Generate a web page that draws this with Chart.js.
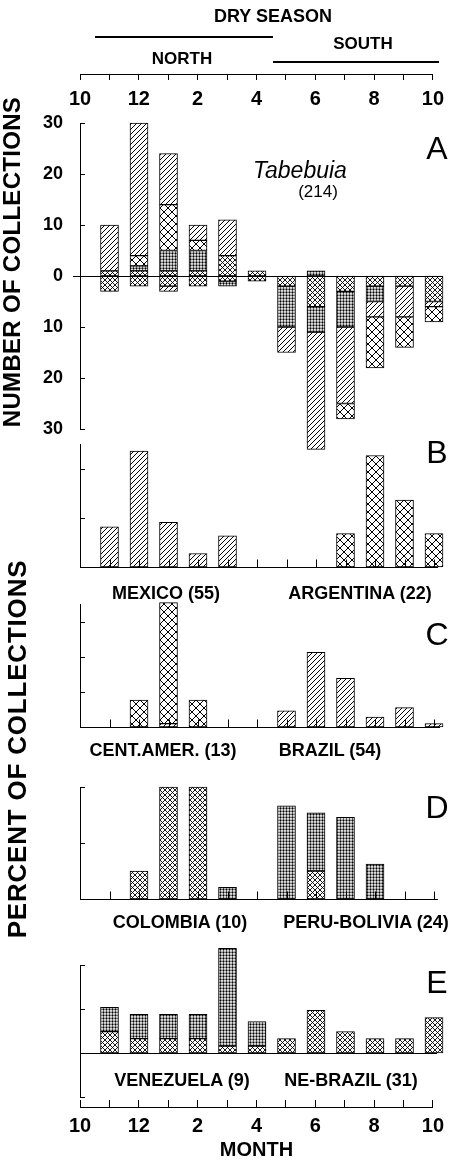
<!DOCTYPE html>
<html><head><meta charset="utf-8">
<script src="https://cdn.jsdelivr.net/npm/chart.js@4.4.0/dist/chart.umd.min.js"></script>
<style>
html,body{margin:0;padding:0;background:#fff;}
#wrap{position:relative;width:451px;height:1163px;overflow:hidden;background:#fff;}
canvas.layer{position:absolute;left:0;top:0;}
.t{position:absolute;font-family:"Liberation Sans",Arial,sans-serif;color:#000;white-space:nowrap;transform:translate(-50%,-50%);line-height:1;}
.b{font-weight:bold;}
.rot{transform:translate(-50%,-50%) rotate(-90deg);}
.hl{position:absolute;height:2px;background:#000;}
</style></head><body>
<div id="wrap">
<canvas id="cTop" class="layer" width="451" height="1163"></canvas>
<canvas id="cA" class="layer" width="451" height="1163"></canvas>
<canvas id="cB" class="layer" width="451" height="1163"></canvas>
<canvas id="cC" class="layer" width="451" height="1163"></canvas>
<canvas id="cD" class="layer" width="451" height="1163"></canvas>
<canvas id="cE" class="layer" width="451" height="1163"></canvas>
<canvas id="cBot" class="layer" width="451" height="1163"></canvas>

<div class="hl" style="left:95px;top:36px;width:178px;"></div>
<div class="hl" style="left:273px;top:61px;width:166px;"></div>
<div class="t b" style="left:273px;top:16px;font-size:18px;">DRY SEASON</div>
<div class="t b" style="left:182px;top:58px;font-size:17px;">NORTH</div>
<div class="t b" style="left:363px;top:43px;font-size:17px;">SOUTH</div>
<div class="t b rot" style="left:12px;top:262px;font-size:24px;letter-spacing:0.3px;">NUMBER OF COLLECTIONS</div>
<div class="t b rot" style="left:17px;top:749px;font-size:26px;letter-spacing:0.8px;">PERCENT OF COLLECTIONS</div>
<div class="t" style="left:437px;top:148px;font-size:32px;">A</div>
<div class="t" style="left:437px;top:452px;font-size:32px;">B</div>
<div class="t" style="left:437px;top:634px;font-size:32px;">C</div>
<div class="t" style="left:437px;top:807px;font-size:32px;">D</div>
<div class="t" style="left:437px;top:982px;font-size:32px;">E</div>
<div class="t" style="left:300px;top:170px;font-size:23px;font-style:italic;">Tabebuia</div>
<div class="t" style="left:318px;top:191px;font-size:17px;">(214)</div>
<div class="t b" style="left:166px;top:593px;font-size:18px;">MEXICO (55)</div>
<div class="t b" style="left:360px;top:593px;font-size:18px;">ARGENTINA (22)</div>
<div class="t b" style="left:163px;top:750px;font-size:18px;">CENT.AMER. (13)</div>
<div class="t b" style="left:330px;top:750px;font-size:18px;">BRAZIL (54)</div>
<div class="t b" style="left:180px;top:922px;font-size:18px;">COLOMBIA (10)</div>
<div class="t b" style="left:366px;top:922px;font-size:18px;">PERU-BOLIVIA (24)</div>
<div class="t b" style="left:182px;top:1080px;font-size:18px;">VENEZUELA (9)</div>
<div class="t b" style="left:351px;top:1080px;font-size:18px;">NE-BRAZIL (31)</div>
</div>
<script>
// ---------- data ----------
const months = ["10","11","12","1","2","3","4","5","6","7","8","9","10"];
const axisTickLabels = ["10","","12","","2","","4","","6","","8","","10"];
const tickLabelsA = [-30,-20,-10,0,10,20,30];

// Panel A: number of collections (north above, south below)
const venezuelaA   = [null, 1, 1, 1, 1, 4, 1, null, null, null, null, null, null];
const colombiaA    = [null, null, 1, 4, 4, null, null, null, 1, null, null, null, null];
const centAmerA    = [null, null, 2, 9, 2, null, null, null, null, null, null, null, null];
const mexicoA      = [null, 9, 26, 10, 3, 7, null, null, null, null, null, null, null];
const neBrazilA    = [null, -3, -2, -2, -2, -1, -1, -2, -6, -3, -2, -2, -5];
const peruBoliviaA = [null, null, null, null, null, -1, null, -8, -5, -7, -3, null, null];
const brazilA      = [null, null, null, -1, null, null, null, -5, -23, -15, -3, -6, -1];
const argentinaA   = [null, null, null, null, null, null, null, null, null, -3, -10, -6, -3];

// Panels B-E: percent of collections
const mexicoB      = [null, 16.4, 47.3, 18.2, 5.5, 12.7, null, null, null, null, null, null, null];
const argentinaB   = [null, null, null, null, null, null, null, null, null, 13.6, 45.5, 27.3, 13.6];
const brazilC      = [null, null, null, 1.9, null, null, null, 9.3, 42.6, 27.8, 5.6, 11.1, 1.9];
const centAmerC    = [null, null, 15.4, 69.2, 15.4, null, null, null, null, null, null, null, null];
const colombiaD    = [null, null, 10, 40, 40, null, null, null, 10, null, null, null, null];
const peruBoliviaD = [null, null, null, null, null, 4.2, null, 33.3, 20.8, 29.2, 12.5, null, null];
const neBrazilE    = [null, 9.7, 6.5, 6.5, 6.5, 3.2, 3.2, 6.5, 19.4, 9.7, 6.5, 6.5, 16.1];
const venezuelaE   = [null, 11.1, 11.1, 11.1, 11.1, 44.4, 11.1, null, null, null, null, null, null];

// ---------- patterns ----------
function makePattern(kind){
  const c = document.createElement('canvas');
  const s = {diag:5, xlarge:8, xfine:5, dots:3}[kind];
  c.width = s; c.height = s;
  const g = c.getContext('2d');
  g.fillStyle = '#fff'; g.fillRect(0,0,s,s);
  g.strokeStyle = '#000'; g.lineWidth = 1;
  const ln = (a,b,cc,d)=>{g.beginPath();g.moveTo(a,b);g.lineTo(cc,d);g.stroke();};
  if (kind === 'diag') { ln(-1,s+1,s+1,-1); ln(-1,1,1,-1); ln(s-1,s+1,s+1,s-1); }
  if (kind === 'xlarge' || kind === 'xfine') {
    g.lineWidth = kind === 'xfine' ? 0.9 : 1;
    ln(-1,s+1,s+1,-1); ln(-1,1,1,-1); ln(s-1,s+1,s+1,s-1);
    ln(-1,-1,s+1,s+1); ln(-1,s-1,1,s+1); ln(s-1,-1,s+1,1);
  }
  if (kind === 'dots') {
    g.fillStyle = '#000';
    g.beginPath(); g.arc(1.5, 1.5, 1.15, 0, Math.PI*2); g.fill();
  }
  return g.createPattern(c,'repeat');
}
const P = {diag:makePattern('diag'), xlarge:makePattern('xlarge'), xfine:makePattern('xfine'), dots:makePattern('dots')};

// ---------- decoration plugin (axis details drawn through the chart scales) ----------
const deco = {
  id:'deco',
  afterDatasetsDraw(chart, args, o){
    const ctx = chart.ctx, x = chart.scales.x, y = chart.scales.y, ca = chart.chartArea;
    ctx.save(); ctx.strokeStyle = '#000'; ctx.lineWidth = 1;
    const ln = (a,b,c,d)=>{ctx.beginPath();ctx.moveTo(a,b);ctx.lineTo(c,d);ctx.stroke();};
    if (o.marks) {
      y.ticks.forEach(t=>{ if (t.value === 0) return;
        const py = Math.round(y.getPixelForValue(t.value)) + 0.5;
        ln(ca.left, py, ca.left + o.marks, py); });
    }
    if (o.zero) {
      const py = Math.round(y.getPixelForValue(0)) + 0.5;
      ln(o.zero[0], py, o.zero[1], py);
    }
    if (o.monthTicks) {
      const py = Math.round(y.getPixelForValue(0)) + 0.5;
      for (let i = 1; i < months.length; i++) {
        const px = Math.round(x.getPixelForValue(i)) + 0.5;
        ln(px, py, px, py - o.monthTicks);
      }
    }
    if (o.topLine) {
      const py = Math.round(ca.top) + 0.5;
      ln(ca.left, py, ca.right, py);
    }
    ctx.restore();
  }
};
Chart.register(deco);
Chart.defaults.font.family = '"Liberation Sans", Arial, sans-serif';
Chart.defaults.color = '#000';

const H = 1163, LEFT = 80, RIGHT = 434;

function ds(data, pat){
  return {data, backgroundColor:P[pat], borderColor:'#000', borderWidth:1, borderSkipped:false,
          barThickness:18, clip:false, stack:'s'};
}

function panel(id, datasets, yMin, yMax, top, bottom, tickVals, decoOpts, showLabels){
  return new Chart(document.getElementById(id), {
    type:'bar',
    data:{labels:months, datasets},
    options:{
      responsive:false, animation:false, devicePixelRatio:1,
      layout:{padding:{left:0, right:451-RIGHT, top:top, bottom:H-bottom}},
      plugins:{legend:{display:false}, tooltip:{enabled:false}, deco:decoOpts},
      scales:{
        x:{display:false, offset:false, stacked:true},
        y:{stacked:true, min:yMin, max:yMax,
           afterFit(s){ s.width = LEFT; },
           afterBuildTicks(s){ s.ticks = tickVals.map(v=>({value:v})); },
           grid:{display:false, drawTicks:false, tickLength:0},
           border:{display:true, color:'#000', width:1},
           ticks:{display:showLabels, padding:17, color:'#000',
                  font:{size:18, weight:'bold'},
                  callback:(v)=>String(Math.abs(v))}}
      }
    }
  });
}

panel('cA', [
  ds(venezuelaA,'xfine'), ds(colombiaA,'dots'), ds(centAmerA,'xlarge'), ds(mexicoA,'diag'),
  ds(neBrazilA,'xfine'), ds(peruBoliviaA,'dots'), ds(brazilA,'diag'), ds(argentinaA,'xlarge')
], -30, 30, 123, 429, tickLabelsA, {marks:5, zero:[73,441]}, true);

panel('cB', [ds(mexicoB,'diag'), ds(argentinaB,'xlarge')], 0, 50, 444.5, 567, [0,20,40],
      {marks:5, zero:[LEFT,438], monthTicks:8}, false);
panel('cC', [ds(brazilC,'diag'), ds(centAmerC,'xlarge')], 0, 70, 604.5, 727, [0,20,40,60],
      {marks:5, zero:[LEFT,440], monthTicks:8}, false);
panel('cD', [ds(colombiaD,'xfine'), ds(peruBoliviaD,'dots')], 0, 40, 787, 899, [0,20,40],
      {marks:5, zero:[LEFT,438], monthTicks:8}, false);
panel('cE', [ds(neBrazilE,'xfine'), ds(venezuelaE,'dots')], -20, 40, 965, 1097, [-20,0,20,40],
      {marks:5, zero:[LEFT,437]}, false);

// month axes (top and bottom)
function monthAxis(id, areaTop, areaBottom, axisH, isBottom){
  return new Chart(document.getElementById(id), {
    type:'line',
    data:{labels:months, datasets:[]},
    options:{
      responsive:false, animation:false, devicePixelRatio:1,
      layout:{padding:{left:LEFT, right:451-RIGHT, top:areaTop, bottom:H-areaBottom-axisH}},
      plugins:{legend:{display:false}, tooltip:{enabled:false}, deco:{topLine:!isBottom}},
      scales:{
        x:{position:'bottom', offset:false,
           afterFit(s){ s.height = axisH; },
           grid:{display:true, drawOnChartArea:true, drawTicks:false, color:'#000', lineWidth:1},
           border:{display:isBottom, color:'#000', width:1},
           ticks:{autoSkip:false, maxRotation:0, padding:7, color:'#000',
                  font:{size:20, weight:'bold'},
                  callback:(v,i)=>axisTickLabels[i]},
           title:{display:isBottom, text:'MONTH', color:'#000', padding:0,
                  font:{size:20, weight:'bold'}}},
        y:{display:false}
      }
    }
  });
}
monthAxis('cTop', 74, 80, 40, false);
monthAxis('cBot', 1100, 1107, 55, true);
</script>
</body></html>
